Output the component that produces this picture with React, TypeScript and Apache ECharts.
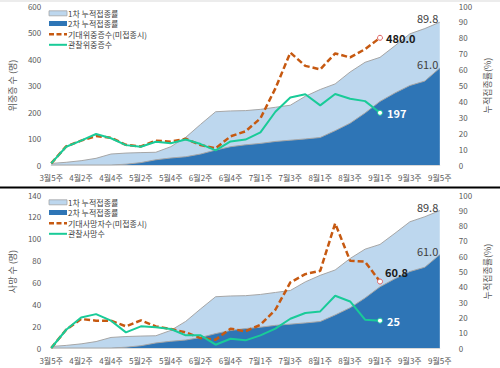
import React, { useEffect, useRef } from "react";
import * as echarts from "echarts";

const weeks = [
  "3월5주", "4월1주", "4월2주", "4월3주", "4월4주", "5월1주", "5월2주", "5월3주", "5월4주",
  "6월1주", "6월2주", "6월3주", "6월4주", "6월5주", "7월1주", "7월2주", "7월3주", "7월4주",
  "8월1주", "8월2주", "8월3주", "8월4주", "9월1주", "9월2주", "9월3주", "9월4주", "9월5주",
];

const dose1Rate = [1.0, 1.7, 2.7, 4.2, 6.9, 7.5, 7.8, 8.0, 11.5, 17.4, 25.6, 33.5, 34.0, 34.2, 35.0, 36.3, 37.6, 43.2, 47.5, 51.0, 58.5, 64.6, 67.7, 75.0, 82.5, 85.8, 89.8];
const dose2Rate = [0, 0, 0, 0, 0, 0.5, 1.5, 3.3, 4.4, 5.2, 6.9, 9.4, 11.5, 12.7, 13.6, 14.8, 15.6, 16.4, 17.3, 21.6, 26.3, 32.7, 40.0, 45.3, 50.0, 52.8, 61.0];

const expectedSevere = [6, 70, 92, 109, 103, 76, 70, 92, 88, 99, 75, 63, 108, 127, 176, 289, 424, 374, 361, 421, 406, 437, 480];
const observedSevere = [6, 69, 92, 117, 101, 75, 69, 88, 82, 96, 79, 55, 89, 96, 123, 201, 255, 267, 225, 268, 250, 241, 197];

const expectedDeaths = [0, 16.7, 26.5, 25, 25, 19.8, 25.3, 19.8, 17.4, 14.3, 9.1, 7.6, 17.7, 15.2, 21.3, 35, 60, 67.6, 70.6, 114, 79.8, 79, 60.8];
const observedDeaths = [0, 16.7, 28, 31, 25, 14.3, 19.8, 18.9, 17.4, 11.6, 11.6, 3, 8.5, 7, 11.6, 17.7, 26.8, 32, 33.5, 47.8, 42.6, 25.9, 25];

const leftTicksTop = { min: 0, max: 600, interval: 100 };
const leftTicksBottom = { min: 0, max: 140, interval: 20 };
const rateTicks = { min: 0, max: 100, interval: 10 };

const topLegendNames = ["1차 누적접종률", "2차 누적접종률", "기대위중증수(미접종시)", "관찰위중증수"];
const bottomLegendNames = ["1차 누적접종률", "2차 누적접종률", "기대사망자수(미접종시)", "관찰사망수"];

const FONT = "'Noto Sans CJK KR', 'Noto Sans', sans-serif";
const LIGHT = "#BDD7EE";
const DARK = "#2E75B6";
const ORANGE = "#C65911";
const GREEN = "#19CB98";
const AXIS_TXT = "#595959";
const AREA_EDGE = "#A6A6A6";

function withEndLabel(values: number[], label: any, symbol: any) {
  return values.map((v, i) =>
    i === values.length - 1 ? { value: v, label, ...symbol } : v
  );
}

function rateLabel() {
  return {
    show: true,
    position: "left",
    distance: 1,
    offset: [0, -4],
    fontSize: 11,
    color: "#404040",
    fontFamily: FONT,
    formatter: (p: any) => Number(p.value).toFixed(1),
  };
}

const hiddenSymbol = {
  symbol: "circle",
  symbolSize: 1,
  itemStyle: { color: "rgba(0,0,0,0)", borderWidth: 0 },
};

function buildSeries(
  xi: number,
  yLeft: number,
  yRight: number,
  expName: string,
  obsName: string,
  exp: number[],
  obs: number[]
) {
  return [
    {
      name: "1차 누적접종률",
      type: "line",
      xAxisIndex: xi,
      yAxisIndex: yRight,
      data: withEndLabel(dose1Rate, rateLabel(), hiddenSymbol),
      symbol: "none",
      lineStyle: { color: AREA_EDGE, width: 1 },
      itemStyle: { color: LIGHT },
      areaStyle: { color: LIGHT, opacity: 1 },
      z: 1,
    },
    {
      name: "2차 누적접종률",
      type: "line",
      xAxisIndex: xi,
      yAxisIndex: yRight,
      data: withEndLabel(dose2Rate, rateLabel(), hiddenSymbol),
      symbol: "none",
      lineStyle: { color: AREA_EDGE, width: 1 },
      itemStyle: { color: DARK },
      areaStyle: { color: DARK, opacity: 1 },
      z: 2,
    },
    {
      name: expName,
      type: "line",
      xAxisIndex: xi,
      yAxisIndex: yLeft,
      data: withEndLabel(
        exp,
        {
          show: true,
          position: "right",
          distance: 3,
          offset: xi === 0 ? [0, 0] : [-1, -10],
          fontSize: 11,
          fontWeight: "bold",
          color: "#1a1a1a",
          fontFamily: FONT,
          formatter: (p: any) => Number(p.value).toFixed(1),
        },
        {
          symbol: "circle",
          symbolSize: 5,
          itemStyle: { color: "#ffffff", borderColor: "#E06060", borderWidth: 1 },
        }
      ),
      symbol: "none",
      lineStyle: { color: ORANGE, width: 2.5, type: [6, 3] },
      itemStyle: { color: ORANGE },
      z: 5,
    },
    {
      name: obsName,
      type: "line",
      xAxisIndex: xi,
      yAxisIndex: yLeft,
      data: withEndLabel(
        obs,
        {
          show: true,
          position: "right",
          distance: 4,
          fontSize: 11,
          fontWeight: "bold",
          color: "#ffffff",
          fontFamily: FONT,
          formatter: (p: any) => String(p.value),
        },
        {
          symbol: "circle",
          symbolSize: 5,
          itemStyle: { color: "#ffffff", borderColor: GREEN, borderWidth: 1 },
        }
      ),
      symbol: "none",
      lineStyle: { color: GREEN, width: 2 },
      itemStyle: { color: GREEN },
      z: 6,
    },
  ];
}

function xAxisCfg(gridIndex: number) {
  return {
    type: "category",
    gridIndex,
    data: weeks,
    boundaryGap: false,
    axisLine: { show: true, lineStyle: { color: "#D9D9D9", width: 1 } },
    axisTick: { show: false },
    splitLine: { show: false },
    axisLabel: { interval: 1, fontSize: 8, color: AXIS_TXT, margin: 8, fontFamily: FONT },
  };
}

function leftAxisCfg(gridIndex: number, ticks: any, name: string) {
  return {
    type: "value",
    gridIndex,
    position: "left",
    ...ticks,
    name,
    nameLocation: "middle",
    nameRotate: 90,
    nameGap: 30,
    nameTextStyle: { fontSize: 9, color: AXIS_TXT, fontFamily: FONT },
    axisLine: { show: false },
    axisTick: { show: false },
    splitLine: { show: false },
    axisLabel: { fontSize: 8, color: AXIS_TXT, margin: 10, fontFamily: FONT },
  };
}

function rightAxisCfg(gridIndex: number) {
  return {
    type: "value",
    gridIndex,
    position: "right",
    ...rateTicks,
    name: "누적접종률(%)",
    nameLocation: "middle",
    nameRotate: 90,
    nameGap: 38,
    nameTextStyle: { fontSize: 9, color: AXIS_TXT, fontFamily: FONT },
    axisLine: { show: false },
    axisTick: { show: false },
    splitLine: { show: false },
    axisLabel: { fontSize: 8, color: AXIS_TXT, margin: 19, fontFamily: FONT },
  };
}

function legendGraphics(baseTop: number, names: string[]) {
  const centers = [13.3, 23.5, 34.2, 44.8].map((c) => c + baseTop);
  const els: any[] = [
    {
      type: "rect",
      shape: { x: 49, y: centers[0] - 2.5, width: 18, height: 5 },
      style: { fill: LIGHT, stroke: AREA_EDGE, lineWidth: 0.8 },
    },
    {
      type: "rect",
      shape: { x: 49, y: centers[1] - 2.5, width: 18, height: 5 },
      style: { fill: DARK },
    },
    {
      type: "line",
      shape: { x1: 49, y1: centers[2], x2: 67, y2: centers[2] },
      style: { stroke: ORANGE, lineWidth: 2.5, lineDash: [5, 2.5] },
    },
    {
      type: "line",
      shape: { x1: 49, y1: centers[3], x2: 67, y2: centers[3] },
      style: { stroke: GREEN, lineWidth: 2 },
    },
  ];
  names.forEach((name, i) => {
    els.push({
      type: "text",
      x: 68,
      y: centers[i],
      style: {
        text: name,
        fill: "#404040",
        fontSize: 8,
        fontFamily: FONT,
        verticalAlign: "middle",
        textVerticalAlign: "middle",
        align: "left",
      },
    });
  });
  return els;
}

export default function App() {
  const ref = useRef<HTMLDivElement>(null);
  useEffect(() => {
    if (!ref.current) return;
    const chart = echarts.init(ref.current, undefined, { renderer: "svg" });
    chart.setOption({
      animation: false,
      backgroundColor: "#ffffff",
      textStyle: { fontFamily: FONT },
      grid: [
        { left: 43, right: 45, top: 6, height: 159 },
        { left: 43, right: 45, top: 195, height: 153 },
      ],
      xAxis: [xAxisCfg(0), xAxisCfg(1)],
      yAxis: [
        leftAxisCfg(0, leftTicksTop, "위중증 수 (명)"),
        rightAxisCfg(0),
        leftAxisCfg(1, leftTicksBottom, "사망 수 (명)"),
        rightAxisCfg(1),
      ],
      graphic: [
        { type: "line", shape: { x1: 0, y1: 1, x2: 500, y2: 1 }, style: { stroke: "#D9D9D9", lineWidth: 1 } },
        { type: "line", shape: { x1: 0, y1: 187.5, x2: 500, y2: 187.5 }, style: { stroke: "#000000", lineWidth: 2 } },
        ...legendGraphics(0, topLegendNames),
        ...legendGraphics(189, bottomLegendNames),
      ],
      series: [
        ...buildSeries(0, 0, 1, topLegendNames[2], topLegendNames[3], expectedSevere, observedSevere),
        ...buildSeries(1, 2, 3, bottomLegendNames[2], bottomLegendNames[3], expectedDeaths, observedDeaths),
      ],
    });
    return () => chart.dispose();
  }, []);
  return (
    <div
      ref={ref}
      style={{ position: "fixed", left: 0, top: 0, width: 500, height: 368, background: "#fff" }}
    />
  );
}
